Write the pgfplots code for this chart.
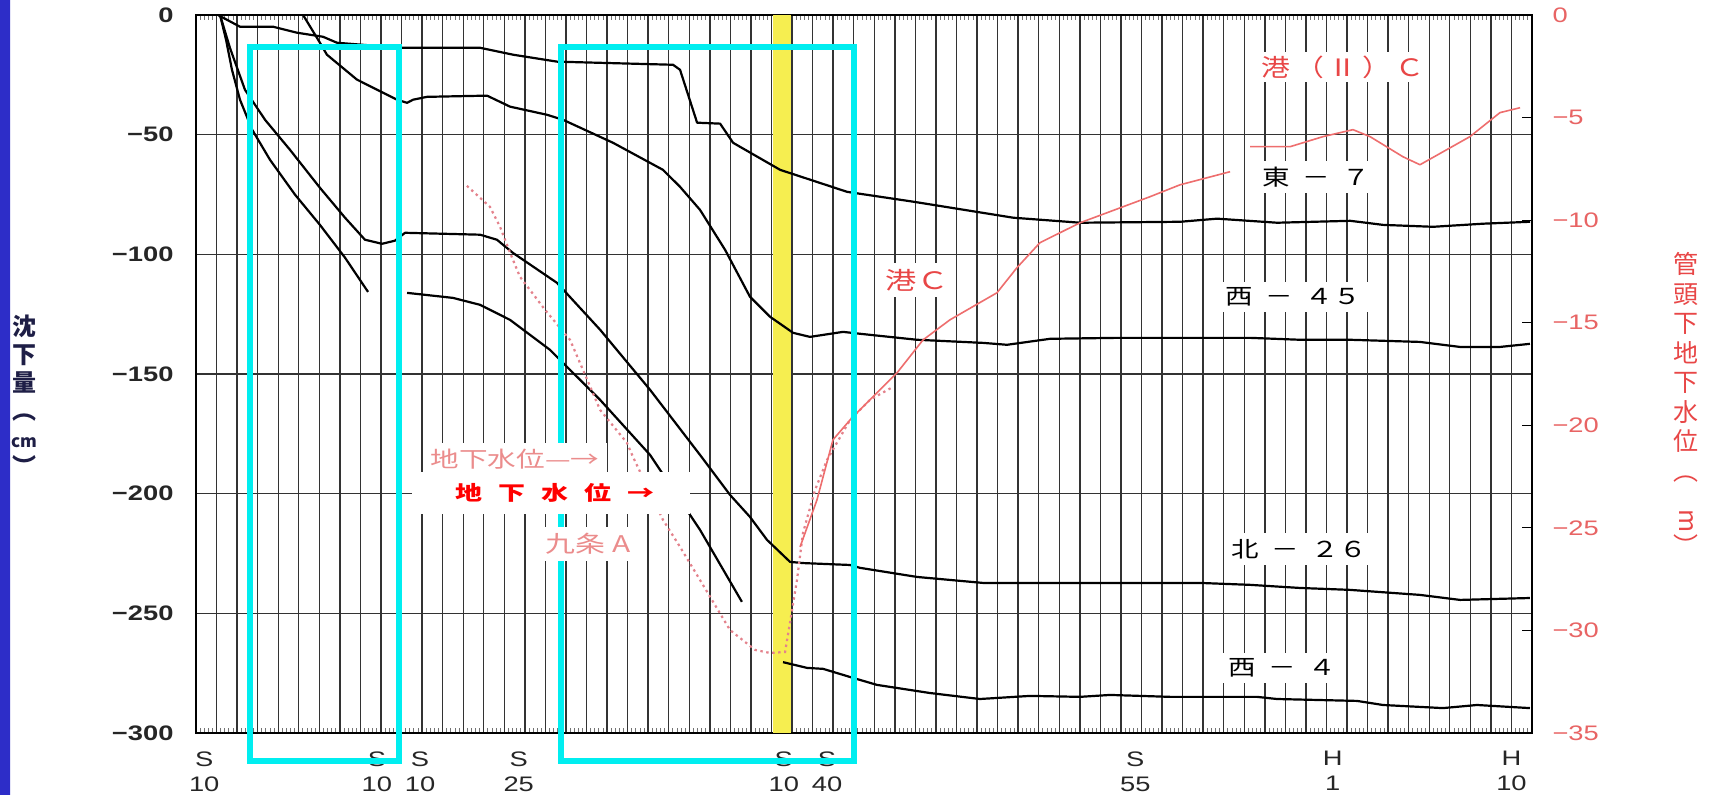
\documentclass[border=0pt]{standalone}
\usepackage{pgfplots}
\usepackage{pgfplotstable}
\pgfplotsset{compat=1.18}
\usepackage{fontspec}
\setmainfont{Liberation Sans}
\newfontfamily\jp{Noto Sans CJK JP}
\definecolor{cyanbox}{RGB}{0,238,240}
\definecolor{yel}{RGB}{246,238,80}
\definecolor{salmon}{RGB}{238,110,110}
\definecolor{dotred}{RGB}{228,130,140}
\definecolor{labred}{RGB}{232,70,70}
\definecolor{fadered}{RGB}{235,140,140}
\definecolor{tickred}{RGB}{232,100,100}
\definecolor{navy}{RGB}{30,30,70}
\definecolor{stripblue}{RGB}{45,45,200}
\definecolor{stripdark}{RGB}{15,15,60}

% subsidence (cm), x = year index (one grid column per year)
\pgfplotstableread{
u v
1.07 0
2.14 -4.9
3.75 -4.9
4.91 -7.4
6.18 -9.1
6.86 -11.6
9.93 -13.7
13.82 -13.7
15.43 -16.6
17.57 -19.5
23.21 -20.8
23.55 -22.9
24.38 -45.0
25.50 -45.4
26.13 -53.4
28.42 -64.7
31.68 -73.9
34.89 -78.0
39.76 -84.7
43.02 -86.8
47.88 -86.4
49.68 -85.1
52.60 -86.8
56.16 -86.0
57.76 -87.7
60.19 -88.5
62.63 -87.2
64.91 -86.4
}\eastseven

\pgfplotstableread{
u v
5.21 0
6.03 -11.6
6.37 -16.6
7.83 -27.0
9.78 -35.4
10.27 -36.7
10.56 -35.4
11.24 -34.2
14.16 -33.7
15.28 -38.3
17.08 -41.7
17.86 -43.8
20.29 -53.4
22.72 -64.7
23.55 -71.8
24.52 -81.4
25.74 -98.1
26.95 -117.7
27.93 -126.1
29.05 -132.8
29.87 -134.5
31.48 -132.4
32.31 -133.2
35.08 -135.7
38.29 -137.0
39.46 -137.8
41.55 -135.3
44.81 -134.9
48.85 -134.9
51.28 -134.9
53.71 -135.7
56.14 -135.7
59.55 -136.6
61.50 -138.7
63.44 -138.7
64.90 -137.4
}\westfortyfive

\pgfplotstableread{
u v
1.17 0
1.46 -10.3
1.75 -22.9
2.14 -35.4
2.73 -47.9
3.60 -60.5
4.82 -75.1
6.03 -87.7
7.25 -101.4
8.37 -115.7
}\kujoone

\pgfplotstableread{
u v
10.27 -116.1
12.50 -118.2
13.82 -121.1
15.28 -127.4
17.22 -139.9
19.66 -160.8
22.09 -183.8
24.52 -215.1
26.56 -245.2
}\kujotwo

\pgfplotstableread{
u v
1.17 0
1.65 -13.7
2.38 -31.2
3.36 -43.8
4.57 -56.3
6.03 -72.2
7.25 -84.7
8.22 -93.9
9.05 -95.6
9.68 -94.3
10.17 -91.0
13.82 -91.8
14.64 -93.9
15.42 -99.4
17.56 -111.9
19.66 -131.5
22.09 -156.6
24.52 -183.8
25.98 -200.5
26.95 -209.7
27.78 -219.3
28.90 -228.5
29.53 -229.0
31.82 -229.8
32.31 -231.0
35.08 -234.8
38.29 -237.3
48.85 -237.3
51.28 -238.1
53.71 -239.4
56.14 -240.2
59.55 -242.3
61.50 -244.4
64.90 -243.6
}\northtwentysix

\pgfplotstableread{
u v
28.56 -270.4
29.73 -272.8
30.51 -273.2
31.82 -276.6
33.13 -279.9
35.71 -283.3
38.14 -285.8
40.58 -284.5
43.01 -284.9
44.47 -284.1
47.39 -284.9
51.62 -284.9
52.59 -285.8
56.49 -286.6
57.75 -288.3
60.67 -289.6
62.32 -288.3
64.90 -289.6
}\westfour

% groundwater level (m)
\pgfplotstableread{
u w
29.39 -25.93
30.21 -23.64
30.99 -20.71
31.82 -19.74
32.45 -19.10
34.11 -17.44
35.37 -15.84
36.68 -14.86
38.97 -13.54
39.94 -12.32
41.06 -11.10
43.01 -10.13
46.41 -8.86
47.87 -8.28
50.31 -7.64
}\minatoC

\pgfplotstableread{
u w
51.28 -6.42
53.23 -6.42
54.83 -5.93
56.29 -5.59
57.12 -5.93
58.72 -6.91
59.55 -7.30
61.98 -5.93
63.44 -4.76
64.42 -4.52
}\minatoIIC

\pgfplotstableread{
u w
13.18 -8.33
14.30 -9.35
14.79 -10.32
15.28 -11.59
15.76 -12.76
16.98 -14.37
18.20 -15.84
18.93 -17.54
19.66 -19.25
20.97 -20.86
21.26 -21.54
22.72 -24.61
23.55 -25.93
24.52 -27.54
25.98 -29.98
27.20 -30.95
27.93 -31.10
28.66 -31.05
29.24 -27.54
29.53 -25.25
30.12 -23.15
30.70 -21.69
31.82 -19.74
32.79 -18.76
33.91 -18.13
}\kujoA

\begin{document}
\begin{tikzpicture}
\begin{scope}[x=0.5pt,y=0.5pt]
\path[use as bounding box] (0,0) rectangle (1711,795);
\fill[white] (0,0) rectangle (1711,795);
\shade[top color=stripblue, middle color=stripdark, bottom color=stripblue] (0,0) rectangle (10,795);
\end{scope}

\begin{axis}[
  at={(98pt,31pt)}, anchor=south west, scale only axis,
  width=668pt, height=359pt,
  xmin=0, xmax=65, ymin=-300, ymax=0,
  xtick={0,...,65}, xticklabels={},
  ytick={-300,-250,...,0},
  yticklabels={−300,−250,−200,−150,−100,−50,0},
  grid=major,
  major grid style={black!80, line width=0.7pt},
  major tick length=0pt,
  minor x tick num=4, minor tick length=2.5pt,
  minor tick style={black!55, line width=0.4pt},
  tick align=inside,
  axis line style={black, line width=1pt},
  ytick pos=left,
  yticklabel style={font=\bfseries\fontsize{10.5}{12}\selectfont, anchor=east, inner sep=0pt, xshift=-11pt, xscale=1.3, text=black!85},
  extra x ticks={0.4,8.8,10.9,15.7,28.6,30.7,45.7,55.3,64.0},
  extra x tick labels={{S\\10},{S\\10},{S\\10},{S\\25},{S\\10},{S\\40},{S\\55},{H\\1},{H\\10}},
  extra x tick style={grid=none, major tick length=0pt,
    xticklabel style={align=center, font=\fontsize{10.5}{12.5}\selectfont, anchor=north, inner sep=0pt, yshift=-9pt, xscale=1.3, text=black!85}},
  clip=true,
]
\fill[yel] (axis cs:28.06,-300) rectangle (axis cs:28.96,0);
\addplot[black, line width=1.1pt, line join=round] table[x=u,y=v] {\eastseven};
\addplot[black, line width=1.1pt, line join=round] table[x=u,y=v] {\westfortyfive};
\addplot[black, line width=1.1pt, line join=round] table[x=u,y=v] {\kujoone};
\addplot[black, line width=1.1pt, line join=round] table[x=u,y=v] {\kujotwo};
\addplot[black, line width=1.1pt, line join=round] table[x=u,y=v] {\northtwentysix};
\addplot[black, line width=1.1pt, line join=round] table[x=u,y=v] {\westfour};
\end{axis}

\begin{axis}[
  at={(98pt,31pt)}, anchor=south west, scale only axis,
  width=668pt, height=359pt,
  xmin=0, xmax=65, ymin=-35, ymax=0,
  axis x line=none, axis y line*=right,
  ytick={-35,-30,...,0},
  yticklabels={−35,−30,−25,−20,−15,−10,−5,0},
  tick align=inside, major tick length=5pt,
  tick style={black, line width=0.6pt},
  y axis line style={black, line width=1pt},
  yticklabel style={font=\fontsize{10.5}{12}\selectfont, anchor=west, inner sep=0pt, xshift=10pt, xscale=1.3, text=tickred},
  clip=true,
]
\addplot[dotred, line width=1.1pt, dash pattern=on 1.2pt off 1.8pt] table[x=u,y=w] {\kujoA};
\addplot[salmon, line width=0.8pt, line join=round] table[x=u,y=w] {\minatoC};
\addplot[salmon, line width=0.8pt, line join=round] table[x=u,y=w] {\minatoIIC};
\end{axis}

\begin{scope}[x=0.5pt,y=0.5pt]
\draw[cyanbox, line width=2.75pt] (250,748) rectangle (399,34);
\draw[cyanbox, line width=2.75pt] (561,748) rectangle (854,34);
% series labels
\node[fill=white, inner sep=2pt, text=labred, font=\jp\fontsize{12}{12}\selectfont, xscale=1.2] at (1343,728) {港\hspace{2pt}（\hspace{2pt}Ⅱ\hspace{2pt}）\hspace{2pt}Ｃ};
\node[fill=white, inner sep=3pt, text=black, font=\jp\fontsize{11}{11}\selectfont, xscale=1.25] at (1316,618) {東\hspace{5pt}－\hspace{5pt}７};
\node[fill=white, inner sep=3pt, text=black, font=\jp\fontsize{11}{11}\selectfont, xscale=1.25] at (1293,498) {西\hspace{5pt}－\hspace{5pt}４５};
\node[fill=white, inner sep=3pt, text=black, font=\jp\fontsize{11}{11}\selectfont, xscale=1.25] at (1299,246) {北\hspace{5pt}－\hspace{5pt}２６};
\node[fill=white, inner sep=3pt, text=black, font=\jp\fontsize{11}{11}\selectfont, xscale=1.25] at (1282,127) {西\hspace{5pt}－\hspace{5pt}４};
\node[fill=white, inner sep=3pt, text=labred, font=\jp\fontsize{12}{12}\selectfont, xscale=1.3] at (917,515) {港Ｃ};
\node[fill=white, inner sep=3pt, text=fadered, font=\jp\fontsize{11.5}{12}\selectfont, xscale=1.3] at (588,251) {九条\hspace{3pt}A};
\node[fill=white, inner sep=3pt, text=fadered, font=\jp\fontsize{11}{12}\selectfont, xscale=1.3] at (515,336) {地下水位—→};
\fill[white] (412,281) rectangle (690,323);
\node[text=red, font=\jp\bfseries\fontsize{10}{10}\selectfont, xscale=1.35] at (555,302) {地\hspace{6pt}下\hspace{6pt}水\hspace{6pt}位\hspace{6pt}→};
% axis titles
\node[align=center, text=navy, font=\jp\bfseries\fontsize{12}{14}\selectfont, inner sep=0pt] at (24,400) {沈\\下\\量\\︵\\{\fontsize{8.5}{10}\selectfont cm}\\︶};
\node[align=center, text=labred, font=\jp\fontsize{12.5}{14.75}\selectfont, inner sep=0pt] at (1686,391) {管\\頭\\下\\地\\下\\水\\位\\︵\\\rotatebox{-90}{m}\\︶};
\end{scope}
\end{tikzpicture}
\end{document}
